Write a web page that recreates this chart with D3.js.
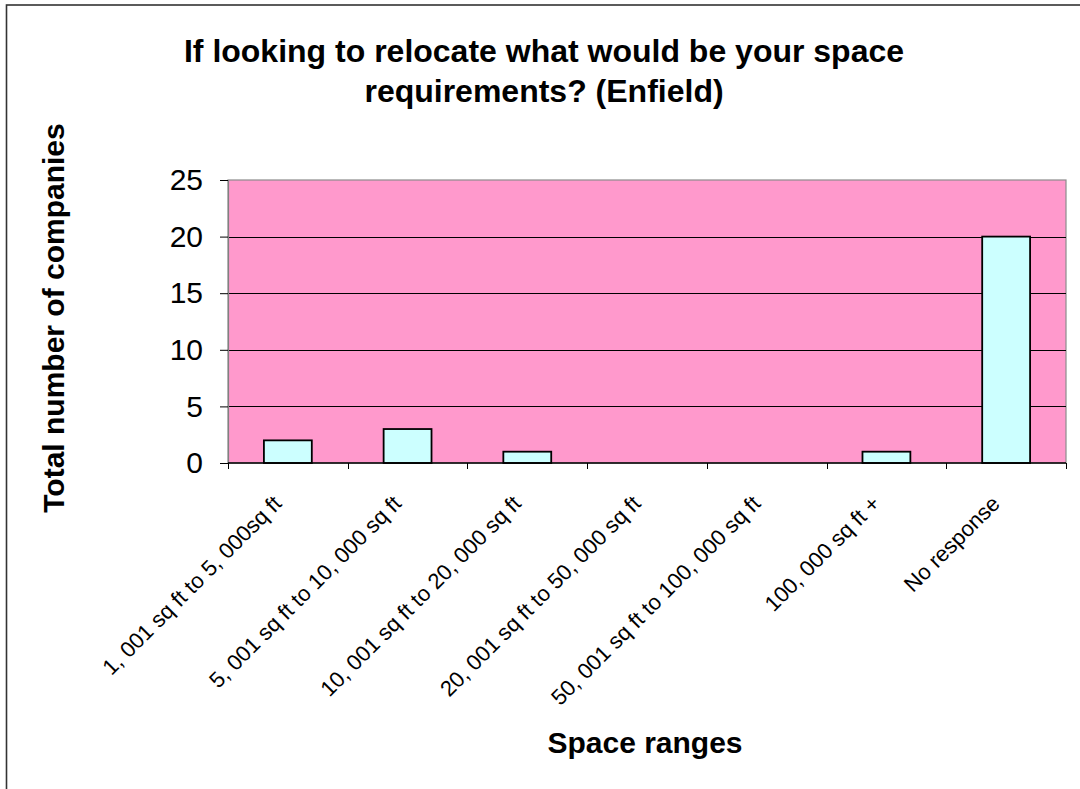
<!DOCTYPE html>
<html>
<head>
<meta charset="utf-8">
<script src="https://cdn.jsdelivr.net/npm/d3@7/dist/d3.min.js"></script>
<style>
  html, body { margin: 0; padding: 0; background: #ffffff; }
  svg { display: block; }
  text { font-family: "Liberation Sans", Arial, sans-serif; fill: #000; }
</style>
</head>
<body>
<svg id="chart" width="1080" height="789"></svg>
<script>
const categories = [
  "1, 001 sq ft to 5, 000sq ft",
  "5, 001 sq ft to 10, 000 sq ft",
  "10, 001 sq ft to 20, 000 sq ft",
  "20, 001 sq ft to 50, 000 sq ft",
  "50, 001 sq ft to 100, 000 sq ft",
  "100, 000 sq ft +",
  "No response"
];
const counts = [2, 3, 1, 0, 0, 1, 20];
const yTicks = [0, 5, 10, 15, 20, 25];
const titleLines = ["If looking to relocate what would be your space", "requirements? (Enfield)"];
const xTitle = "Space ranges";
const yTitle = "Total number of companies";

const svg = d3.select("#chart");
const W = 1080, H = 789;
const plot = { left: 228, right: 1066, top: 180, bottom: 463 };

// outer frame (only top/left visible in view)
svg.append("rect")
  .attr("x", 6.5).attr("y", 5)
  .attr("width", W + 20).attr("height", H + 20)
  .attr("fill", "#fff").attr("stroke", "#333").attr("stroke-width", 1.6);

const x = d3.scaleBand()
  .domain(categories)
  .range([plot.left, plot.right])
  .paddingInner(0.6).paddingOuter(0.3);

const y = d3.scaleLinear().domain([0, 25]).range([plot.bottom, plot.top]);

// plot background
svg.append("rect")
  .attr("x", plot.left).attr("y", plot.top)
  .attr("width", plot.right - plot.left).attr("height", plot.bottom - plot.top)
  .attr("fill", "#FF99CC")
  .attr("stroke", "#8c8c8c").attr("stroke-width", 1.2);

// gridlines
svg.append("g").selectAll("line")
  .data(yTicks.filter(d => d > 0 && d < 25))
  .join("line")
  .attr("x1", plot.left).attr("x2", plot.right)
  .attr("y1", d => Math.round(y(d)) + 0.5).attr("y2", d => Math.round(y(d)) + 0.5)
  .attr("stroke", "#000").attr("stroke-width", 1);

// bars
svg.append("g").selectAll("rect")
  .data(counts.map((v, i) => ({ c: categories[i], v })).filter(d => d.v > 0))
  .join("rect")
  .attr("x", d => x(d.c))
  .attr("y", d => y(d.v))
  .attr("width", x.bandwidth())
  .attr("height", d => y(0) - y(d.v))
  .attr("fill", "#CCFFFF")
  .attr("stroke", "#000").attr("stroke-width", 1.8);

// y axis
const yAxis = d3.axisLeft(y).tickValues(yTicks).tickSize(8).tickPadding(17);
const gy = svg.append("g").attr("transform", `translate(${plot.left},0)`).call(yAxis);
gy.select(".domain").attr("stroke", "#808080").attr("stroke-width", 1.2);
gy.selectAll(".tick line").attr("stroke", "#000");
gy.selectAll(".tick text")
  .style("font-family", "'Liberation Sans', Arial, sans-serif")
  .style("font-size", "30px").attr("fill", "#000");

// x axis: ticks at band boundaries
const boundaries = d3.range(categories.length + 1).map(i => plot.left + i * x.step());
const gx = svg.append("g");
gx.append("line")
  .attr("x1", plot.left).attr("x2", plot.right)
  .attr("y1", plot.bottom).attr("y2", plot.bottom)
  .attr("stroke", "#000").attr("stroke-width", 1.4);
gx.selectAll("line.tk").data(boundaries).join("line")
  .attr("class", "tk")
  .attr("x1", d => Math.round(d) + 0.5).attr("x2", d => Math.round(d) + 0.5)
  .attr("y1", plot.bottom).attr("y2", plot.bottom + 6)
  .attr("stroke", "#000");

gx.selectAll("text.lbl").data(categories).join("text")
  .attr("class", "lbl")
  .attr("text-anchor", "end")
  .attr("transform", d => `translate(${x(d) + x.bandwidth() / 2 - 5},505) rotate(-45)`)
  .style("font-size", "22px")
  .text(d => d);

// title
svg.append("text")
  .attr("x", 544).attr("y", 62)
  .attr("text-anchor", "middle")
  .style("font-size", "32px").style("font-weight", "bold")
  .selectAll("tspan").data(titleLines).join("tspan")
  .attr("x", 544).attr("dy", (d, i) => i === 0 ? 0 : 40)
  .text(d => d);

// axis titles
svg.append("text")
  .attr("x", 645).attr("y", 753)
  .attr("text-anchor", "middle")
  .style("font-size", "30px").style("font-weight", "bold")
  .text(xTitle);

svg.append("text")
  .attr("transform", "translate(64,318) rotate(-90)")
  .attr("text-anchor", "middle")
  .style("font-size", "30px").style("font-weight", "bold")
  .text(yTitle);
</script>
</body>
</html>
